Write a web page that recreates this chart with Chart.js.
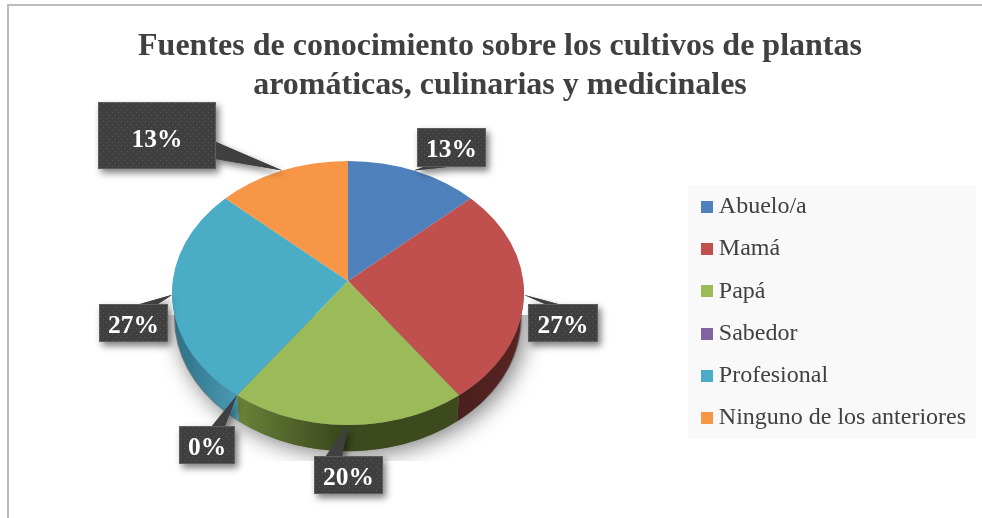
<!DOCTYPE html>
<html><head><meta charset="utf-8">
<style>html,body{margin:0;padding:0;background:#fff}canvas{display:block}</style>
<script src="https://cdn.jsdelivr.net/npm/chart.js@4/dist/chart.umd.min.js"></script>
</head><body>
<div style="width:982px;height:518px"><canvas id="c" width="982" height="518"></canvas></div>
<script>
const titleLines = ['Fuentes de conocimiento sobre los cultivos de plantas','aromáticas, culinarias y medicinales'];
const categories = ['Abuelo/a','Mamá','Papá','Sabedor','Profesional','Ninguno de los anteriores'];
const counts = [2,4,3,0,4,2];
const colors = ['#4f81bd','#c0504d','#9bbb59','#8064a2','#4bacc6','#f79646'];

// perspective of the tilted pie: centre of the disc, foreshortening, near/far factor
const view = {cx:348, cy:281, A:175, B:130.9, k:0.0909, ex:176, ey:132, ecy:293, wallCy:306, wallA:172, wallB:132};
// callout boxes [left, top, right, bottom], base of the tail on the box edge, text nudge
const callouts = [
  {box:[417,128,486,167], base:[[424,167],[447,167]], dy:3},
  {box:[528,304,598,342], base:[[545,304],[558,304]], dy:3},
  {box:[314,456,383,494], base:[[326,456],[342,456]], dy:3},
  {box:[179,426,235,464], base:[[212,426],[225,426]], dy:3},
  {box:[99,304,168,342],  base:[[140,304],[158,304]], dy:3},
  {box:[98,102,216,169],  base:[[216,142],[216,159]], dy:5}
];
const wallShades = {1:[['#4a1f1d',0],['#5a2523',1]],2:[['#6b8339',0],['#3c4a1e',0.45],['#3c4a1e',1]],4:[['#2c7085',0],['#4a9ab4',1]]};

function dotPattern(ctx){
  const p=document.createElement('canvas');p.width=6;p.height=6;
  const g=p.getContext('2d');
  g.fillStyle='#3f3f3f';g.fillRect(0,0,6,6);
  g.fillStyle='#595959';g.fillRect(1,1,1,1);g.fillRect(4,4,1,1);
  return ctx.createPattern(p,'repeat');
}
function rim(a,A,B,cy){ // a is the chart.js arc angle
  const s=Math.sin(a+Math.PI/2), c=Math.cos(a+Math.PI/2), d=1+view.k*c;
  return {x:view.cx+A*s/d, y:cy-B*c/d};
}
function screenAngle(a){ // direction on screen of the rim point, unwrapped next to a
  const p=rim(a,view.A,view.B,view.cy);
  const t=Math.atan2(p.y-view.cy,p.x-view.cx);
  return t+2*Math.PI*Math.round((a-t)/(2*Math.PI));
}
function wallPath(ctx,a0,a1){
  ctx.beginPath();
  const n=48;
  for(let i=0;i<=n;i++){const p=rim(a0+(a1-a0)*i/n,view.A,view.B,view.cy);ctx.lineTo(p.x,p.y);}
  for(let i=n;i>=0;i--){const p=rim(a0+(a1-a0)*i/n,view.wallA,view.wallB,view.wallCy);ctx.lineTo(p.x,p.y);}
  ctx.closePath();
}
function squareMarker(col){
  const m=document.createElement('canvas');m.width=12;m.height=12;
  const g=m.getContext('2d');g.fillStyle=col;g.fillRect(0,0,12,12);
  return m;
}

const tiltedPie = {
  id:'tiltedPie',
  afterLayout(chart){
    const l=chart.legend;
    const w=l.right-l.left,h=l.bottom-l.top;
    l.left=688;l.top=176.4;l.right=688+w;l.bottom=176.4+h;
  },
  beforeDraw(chart){
    const ctx=chart.ctx;
    ctx.save();
    ctx.fillStyle='#fff';ctx.fillRect(0,0,982,518);
    ctx.fillStyle='#bcbcbc';
    ctx.fillRect(7,4,2,514);
    ctx.fillRect(7,4,975,2);
    ctx.fillStyle='#f9f9f9';
    ctx.fillRect(688,185,288,254);
    ctx.restore();
  },
  beforeDatasetDraw(chart,args){
    const ctx=chart.ctx, meta=args.meta, ctrl=meta.controller;
    const el=meta.data[0], R=el.outerRadius;
    // soft ground shadow
    ctx.save();
    ctx.beginPath();ctx.rect(150,315,400,146);ctx.clip();
    ctx.shadowColor='rgba(0,0,0,0.5)';ctx.shadowBlur=22;ctx.shadowOffsetX=4;ctx.shadowOffsetY=4;
    ctx.fillStyle='#777';
    ctx.beginPath();ctx.ellipse(view.cx,318,174,133,0,0,Math.PI*2);ctx.fill();
    ctx.restore();
    // walls of the near half
    meta.data.forEach((arc,i)=>{
      if(!wallShades[i])return;
      const a0=Math.max(arc.startAngle,0), a1=Math.min(arc.endAngle,Math.PI);
      if(a1<=a0)return;
      const p0=rim(a0,view.A,view.B,view.cy), p1=rim(a1,view.A,view.B,view.cy);
      const g=ctx.createLinearGradient(Math.min(p0.x,p1.x),0,Math.max(p0.x,p1.x),0);
      wallShades[i].forEach(s=>g.addColorStop(s[1],s[0]));
      ctx.fillStyle=g;wallPath(ctx,a0,a1);ctx.fill();
    });
    // top face: the controller paints the arcs at their on-screen angles, clipped to the disc outline
    const saved=meta.data.map(a=>[a.startAngle,a.endAngle,a.circumference]);
    meta.data.forEach(a=>{
      if(a.circumference===0)return;
      const s=screenAngle(a.startAngle), e=screenAngle(a.endAngle);
      a.startAngle=s;a.endAngle=e;a.circumference=e-s;
    });
    ctx.save();
    ctx.beginPath();ctx.ellipse(view.cx,view.ecy,view.ex,view.ey,0,0,Math.PI*2);ctx.clip();
    ctx.translate(view.cx,view.cy);
    const z=260/R;
    ctx.scale(z,z);
    ctx.translate(-el.x,-el.y);
    ctrl.draw();
    ctx.restore();
    meta.data.forEach((a,i)=>{a.startAngle=saved[i][0];a.endAngle=saved[i][1];a.circumference=saved[i][2];});
    return false;
  },
  afterDatasetsDraw(chart){
    const ctx=chart.ctx, meta=chart.getDatasetMeta(0);
    const pattern=dotPattern(ctx);
    const total=counts.reduce((a,b)=>a+b,0);
    meta.data.forEach((arc,i)=>{
      const c=callouts[i], [l,t,r,b]=c.box;
      const tip=rim((arc.startAngle+arc.endAngle)/2,view.A,view.B,view.cy);
      const tail=()=>{ctx.moveTo(c.base[0][0],c.base[0][1]);ctx.lineTo(tip.x,tip.y);ctx.lineTo(c.base[1][0],c.base[1][1]);ctx.closePath();};
      ctx.save();
      ctx.shadowColor='rgba(0,0,0,0.5)';ctx.shadowBlur=7;ctx.shadowOffsetX=3;ctx.shadowOffsetY=4;
      ctx.fillStyle='#404040';
      ctx.beginPath();ctx.rect(l,t,r-l,b-t);tail();ctx.fill();
      ctx.shadowColor='transparent';
      ctx.fillStyle=pattern;
      ctx.beginPath();ctx.rect(l,t,r-l,b-t);ctx.fill();
      ctx.fillStyle='#404040';
      ctx.beginPath();tail();ctx.fill();
      ctx.strokeStyle='#5e5e5e';ctx.lineWidth=1;ctx.strokeRect(l+.5,t+.5,r-l-1,b-t-1);
      ctx.fillStyle='#fff';
      ctx.font='bold 25.5px "Liberation Serif"';
      ctx.textAlign='center';ctx.textBaseline='middle';
      ctx.fillText(Math.round(counts[i]/total*100)+'%',(l+r)/2,(t+b)/2+c.dy);
      ctx.restore();
    });
  }
};

new Chart(document.getElementById('c'),{
  type:'pie',
  data:{labels:categories,datasets:[{data:counts,backgroundColor:colors,borderWidth:0}]},
  options:{
    responsive:false,animation:false,
    layout:{padding:{left:18}},
    plugins:{
      tooltip:{enabled:false},
      title:{display:true,text:titleLines,color:'#404040',
        font:{family:'"Liberation Serif"',size:32,weight:'bold',lineHeight:1.22},
        padding:{top:27,bottom:6}},
      legend:{position:'right',align:'start',
        labels:{color:'#404040',font:{family:'"Liberation Serif"',size:24},
          usePointStyle:true,pointStyleWidth:0.5,boxHeight:12,padding:18.3,
          generateLabels(chart){
            return categories.map((t,i)=>({text:t,pointStyle:squareMarker(colors[i]),fontColor:'#404040',index:i,lineWidth:0,strokeStyle:'transparent',fillStyle:colors[i]}));
          }}}
    }
  },
  plugins:[tiltedPie]
});
</script>
</body></html>
